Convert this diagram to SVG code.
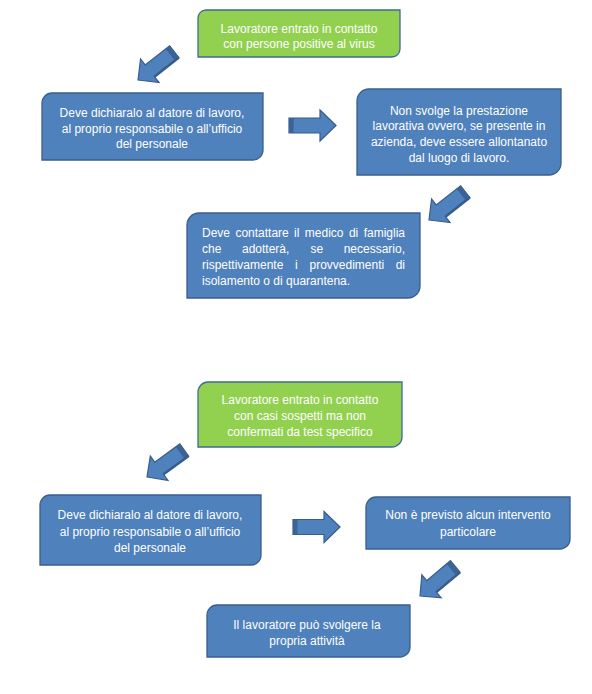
<svg xmlns="http://www.w3.org/2000/svg" xmlns:xlink="http://www.w3.org/1999/xlink" width="592" height="694" viewBox="0 0 592 694">
<style>
.box{fill:#4F81BD;stroke:#3A5F8C;stroke-width:1.3}
.gbox{fill:#92D050;stroke:#3F6B96;stroke-width:1.3}
.t{font-family:"Liberation Sans",Arial,sans-serif;font-size:12px;fill:#FFFFFF;text-anchor:middle}
.tl{font-family:"Liberation Sans",Arial,sans-serif;font-size:12px;fill:#FFFFFF}
.te{font-family:"Liberation Sans",Arial,sans-serif;font-size:12px;fill:#FFFFFF;text-anchor:end}
.arr{fill:#4F81BD;stroke:#385D8A;stroke-width:1.2;stroke-linejoin:miter}
.shade{fill:#3B6396}
</style>
<defs>
<g id="darr">
<path class="arr" d="M0,0 L-15,-15 L-15,-7.5 L-46,-7.5 L-46,7.5 L-15,7.5 L-15,15 Z"/>
<rect class="shade" x="-46" y="-7.5" width="5" height="15"/>
<path d="M-46,-7.5 L-15,-7.5" stroke="#385D8A" stroke-width="2.5" fill="none"/>
</g>
<g id="harr">
<path class="arr" d="M0,0 L-16,-15.5 L-16,-7.5 L-47,-7.5 L-47,7.5 L-16,7.5 L-16,15.5 Z"/>
<rect class="shade" x="-47" y="-7.5" width="4.5" height="15"/>
</g>
</defs>

<g id="connectors">
<use xlink:href="#darr" transform="translate(138,80) rotate(142)"/>
<use xlink:href="#harr" transform="translate(336,125.5)"/>
<use xlink:href="#darr" transform="translate(429,220) rotate(142)"/>
<use xlink:href="#darr" transform="translate(147,477) rotate(144)"/>
<use xlink:href="#harr" transform="translate(340,527)"/>
<use xlink:href="#darr" transform="translate(420,596) rotate(140)"/>
</g>

<g id="n1">
<path class="gbox" d="M206,10 H400 V49 A8,8 0 0 1 392,57 H198 V18 A8,8 0 0 1 206,10 Z"/>
<text class="t" x="299" y="33">Lavoratore entrato in contatto</text>
<text class="t" x="299" y="48">con persone positive al virus</text>
</g>

<g id="n2">
<path class="box" d="M52,93 H263 V150 A10,10 0 0 1 253,160 H42 V103 A10,10 0 0 1 52,93 Z"/>
<text class="t" x="152" y="117">Deve dichiaralo al datore di lavoro,</text>
<text class="t" x="152" y="132.5">al proprio responsabile o all’ufficio</text>
<text class="t" x="152" y="148">del personale</text>
</g>

<g id="n3">
<path class="box" d="M369,89 H561 V163 A12,12 0 0 1 549,175 H357 V101 A12,12 0 0 1 369,89 Z"/>
<text class="t" x="459" y="114.5">Non svolge la prestazione</text>
<text class="t" x="459" y="130">lavorativa ovvero, se presente in</text>
<text class="t" x="459" y="146">azienda, deve essere allontanato</text>
<text class="t" x="459" y="161.5">dal luogo di lavoro.</text>
</g>

<g id="n4">
<path class="box" d="M199,213 H420 V286 A12,12 0 0 1 408,298 H187 V225 A12,12 0 0 1 199,213 Z"/>
<text class="tl" y="236.5"><tspan x="202">Deve</tspan><tspan x="235.4">contattare</tspan><tspan x="294.1">il</tspan><tspan x="304.8">medico</tspan><tspan x="348.9">di</tspan></text>
<text class="te" x="405" y="236.5">famiglia</text>
<text class="tl" y="252.5"><tspan x="202">che</tspan><tspan x="242">adotterà,</tspan><tspan x="310.5">se</tspan></text>
<text class="te" x="405" y="252.5">necessario,</text>
<text class="tl" y="268.5"><tspan x="202">rispettivamente</tspan><tspan x="295">i</tspan><tspan x="309.5">provvedimenti</tspan></text>
<text class="te" x="405" y="268.5">di</text>
<text class="tl" x="202" y="284.5">isolamento o di quarantena.</text>
</g>

<g id="n5">
<path class="gbox" d="M208,382 H402 V437 A10,10 0 0 1 392,447 H198 V392 A10,10 0 0 1 208,382 Z"/>
<text class="t" x="300" y="404">Lavoratore entrato in contatto</text>
<text class="t" x="300" y="420">con casi sospetti ma non</text>
<text class="t" x="300" y="436">confermati da test specifico</text>
</g>

<g id="n6">
<path class="box" d="M50,495 H261 V555 A10,10 0 0 1 251,565 H40 V505 A10,10 0 0 1 50,495 Z"/>
<text class="t" x="150" y="519">Deve dichiaralo al datore di lavoro,</text>
<text class="t" x="150" y="535.5">al proprio responsabile o all’ufficio</text>
<text class="t" x="150" y="552">del personale</text>
</g>

<g id="n7">
<path class="box" d="M376,497 H570 V539 A10,10 0 0 1 560,549 H366 V507 A10,10 0 0 1 376,497 Z"/>
<text class="t" x="468" y="519">Non è previsto alcun intervento</text>
<text class="t" x="468" y="536">particolare</text>
</g>

<g id="n8">
<path class="box" d="M217,605 H410 V647 A10,10 0 0 1 400,657 H207 V615 A10,10 0 0 1 217,605 Z"/>
<text class="t" x="307" y="628.5">Il lavoratore può svolgere la</text>
<text class="t" x="307" y="645">propria attività</text>
</g>
</svg>
